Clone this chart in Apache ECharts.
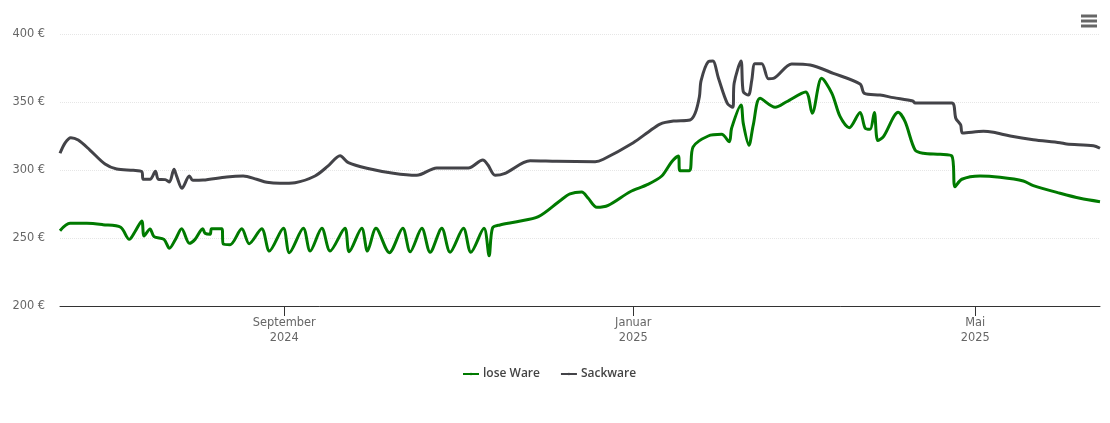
<!DOCTYPE html>
<html lang="de">
<head>
    <meta charset="UTF-8">
    <title>Preisentwicklung</title>
    <script src="https://cdn.jsdelivr.net/npm/echarts@6/dist/echarts.min.js"></script>
    <style>
        html, body { margin: 0; padding: 0; background: #fff; }
    </style>
</head>
<body>
    <div id="main" style="width: 1110px;height:423px;"></div>
    <script>
        // x values are days counted from the start of the chart (mid June 2024)
        const looseDays = [0, 3.5, 9.4, 15.1, 21.3, 24.3, 26.3, 28.7, 29.5, 31.6, 33, 36.5, 38.4, 40.4, 42.7, 45.4, 47.4, 50.1, 50.9, 52.7, 53.2, 56.8, 57.3, 59.7, 63.8, 66.4, 70.8, 73.5, 78.4, 80.5, 85.4, 87.8, 91.9, 94.8, 100, 101.5, 105.9, 107.9, 110.9, 115.6, 120.3, 122.9, 127, 129.9, 134, 136.9, 141.6, 144.2, 148.8, 150.6, 151.8, 154.4, 160.3, 167.9, 175.5, 179, 183.1, 185.4, 188.4, 192.4, 200.1, 205.9, 211.2, 214.7, 217, 217.6, 220.9, 222.2, 227.5, 232.2, 234.9, 235.7, 239, 239.8, 241.8, 243.3, 245.7, 251, 255, 261.7, 264, 267.3, 270.9, 273.8, 277, 280.8, 282.6, 284.3, 285.8, 287, 289, 294.2, 296.6, 300.1, 303, 308.9, 313, 314.1, 316.5, 322.9, 329.9, 338.1, 341.6, 351, 358, 365];
        const looseValues = [255.4, 260.8, 260.8, 259.8, 257.9, 249, 254.6, 262.5, 251.5, 256.6, 251, 249, 242.4, 248.5, 256.8, 246.1, 249, 256.8, 253.5, 252.7, 256.8, 256.8, 245.6, 245.1, 256.8, 245.8, 256.8, 240.4, 257.1, 239.2, 257.1, 240.4, 257.1, 240.4, 257.1, 239.9, 257.1, 240.4, 257.1, 239.2, 257.1, 239.9, 257.1, 239.5, 257.1, 239.5, 257.1, 239.5, 257.1, 237, 257.4, 259.6, 262, 265.7, 277.4, 282.4, 283.8, 279.2, 272.6, 274, 284, 289, 295.6, 306.1, 310.3, 299.5, 299.5, 317, 325, 326.2, 320.8, 330.7, 347.8, 334.3, 318.2, 333, 352.7, 346.1, 350.2, 357.4, 341.7, 367.4, 356.4, 339.2, 331.1, 342.3, 330.7, 329.9, 342.3, 321.7, 324.5, 342.4, 335.5, 314.7, 312.3, 311.5, 310.3, 287.7, 293.2, 295.6, 294.6, 291.9, 288.5, 282.9, 279.2, 276.7];

        const sackDays = [0, 1.8, 3.8, 6.4, 10.5, 15.8, 19.9, 25.7, 28.7, 29.2, 31.6, 33.5, 34.5, 36.9, 38.4, 40, 41, 42.8, 45.4, 46.6, 50.2, 58.5, 64.3, 69, 72.6, 77.2, 82.5, 89.5, 94, 98.3, 101.2, 107.7, 117, 125.2, 132.2, 143.3, 148.4, 150.2, 152.7, 156.2, 165, 174.3, 187.8, 190.7, 201.2, 206.5, 210.6, 215.3, 221.1, 222.9, 224.4, 225, 227.5, 229.1, 231.1, 234.2, 236.1, 236.6, 239, 239.8, 241.6, 242.8, 243.9, 246.3, 248.6, 250.4, 256.8, 263.3, 271.4, 280.8, 282.3, 287.8, 292.5, 299.3, 300.1, 313, 314.4, 316.1, 316.8, 324.1, 327.6, 333.5, 341.6, 351, 353.3, 362.7, 365];
        const sackValues = [312.3, 320, 323.8, 322, 314.7, 304.4, 300.7, 299.8, 298.8, 293.2, 293.2, 299, 293.2, 292.9, 291.2, 300.5, 295.1, 286.5, 295.6, 292.4, 292.6, 294.9, 295.6, 293.2, 291, 290.2, 290.7, 295.6, 302.8, 310.5, 305.4, 301.3, 297.6, 296.1, 301.5, 301.5, 307.4, 303.7, 296.1, 297.6, 306.8, 306.4, 306.1, 307.9, 320.1, 328, 333.8, 336, 336.8, 341.7, 353.9, 365.7, 379.6, 380.1, 367.4, 349, 346.1, 363.8, 380.1, 357.6, 355.1, 366.2, 378.2, 378.2, 367.1, 367.4, 378, 377.2, 371.1, 363.2, 356.4, 355.1, 353.2, 350.7, 349.3, 349.3, 338, 333.1, 327.2, 328.5, 327.7, 325, 322.3, 320.1, 319.1, 317.9, 316];

        // month ticks as days from the start
        const monthDays = [78.7, 201.2, 321.2];
        const monthLabels = ['September\n2024', 'Januar\n2025', 'Mai\n2025'];
        const yTicks = [200, 250, 300, 350, 400];

        const toPairs = (days, values) => days.map((d, i) => [d, values[i]]);

        const textFont = '"DejaVu Sans", sans-serif';
        const myChart = echarts.init(document.getElementById('main'));
        myChart.setOption({
            animation: false,
            grid: { left: 60, right: 10, top: 34, height: 272 },
            legend: {
                left: 457,
                top: 363,
                itemWidth: 16,
                itemHeight: 3,
                itemGap: 20,
                textStyle: { color: '#444', fontFamily: '"Open Sans", sans-serif', fontSize: 12, fontWeight: 600, padding: [0, 0, 0, -1] },
                data: ['lose Ware', 'Sackware']
            },
            xAxis: {
                type: 'value',
                min: 0,
                max: 365,
                splitLine: { show: false },
                axisLine: { lineStyle: { color: '#333', width: 1 } },
                axisTick: {
                    length: 10,
                    lineStyle: { color: '#333', width: 1 },
                    customValues: monthDays
                },
                axisLabel: {
                    customValues: monthDays,
                    margin: 10,
                    color: '#666',
                    fontFamily: textFont,
                    fontSize: 11.4,
                    lineHeight: 15,
                    formatter: v => monthLabels[monthDays.indexOf(v)] || ''
                }
            },
            yAxis: {
                type: 'value',
                min: yTicks[0],
                max: yTicks[yTicks.length - 1],
                interval: 50,
                axisLine: { show: false },
                axisTick: { show: false },
                splitLine: { lineStyle: { color: '#e6e6e6', type: 'dotted', width: 1 } },
                axisLabel: {
                    margin: 15,
                    color: '#666',
                    fontFamily: textFont,
                    fontSize: 11.4,
                    verticalAlign: 'middle',
                    padding: [0, 0, 2, 0],
                    formatter: '{value} €'
                }
            },
            series: [
                {
                    name: 'lose Ware',
                    type: 'line',
                    smooth: 0.3,
                    showSymbol: false,
                    symbol: 'none',
                    color: '#007a00',
                    lineStyle: { width: 3 },
                    data: toPairs(looseDays, looseValues)
                },
                {
                    name: 'Sackware',
                    type: 'line',
                    smooth: 0.3,
                    showSymbol: false,
                    symbol: 'none',
                    color: '#434348',
                    lineStyle: { width: 3 },
                    data: toPairs(sackDays, sackValues)
                }
            ],
            // menu button in the top right corner
            graphic: [14.5, 19.5, 24.5].map(y => ({
                type: 'rect',
                shape: { x: 1081, y: y, width: 16, height: 3 },
                style: { fill: '#666' }
            }))
        });
    </script>
</body>
</html>
